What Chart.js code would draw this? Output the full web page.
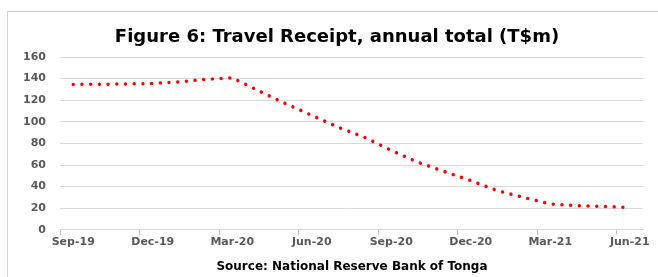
<!DOCTYPE html>
<html>
<head>
<meta charset="utf-8">
<script src="https://cdn.jsdelivr.net/npm/chart.js@4/dist/chart.umd.min.js"></script>
<style>
  html, body { margin: 0; padding: 0; background: #fff; }
  #wrap { position: relative; width: 658px; height: 277px; overflow: hidden; }
  #frame { position: absolute; left: 7px; top: 11px; width: 700px; height: 300px; border: 1px solid #d6d6d6; }
  #box { position: absolute; left: 0; top: 0; width: 658px; height: 277px; }
</style>
</head>
<body>
<div id="wrap">
  <div id="frame"></div>
  <div id="box"><canvas id="chartId"></canvas></div>
</div>
<script>
// monthly travel receipts, annual total (T$m)
var months = ["Sep-19", "Oct-19", "Nov-19", "Dec-19", "Jan-20", "Feb-20", "Mar-20",
    "Apr-20", "May-20", "Jun-20", "Jul-20", "Aug-20", "Sep-20", "Oct-20", "Nov-20",
    "Dec-20", "Jan-21", "Feb-21", "Mar-21", "Apr-21", "May-21", "Jun-21"];
var receipts = [134.6, 134.8, 135.0, 135.5, 137.0, 139.3, 140.7,
    128.7, 117.0, 106.0, 95.0, 85.6, 73.5, 62.6, 54.0,
    45.6, 36.3, 30.0, 23.9, 22.3, 21.7, 20.7];
var yTicks = [0, 20, 40, 60, 80, 100, 120, 140, 160];

var titleText = "Figure 6: Travel Receipt, annual total (T$m)";
var sourceText = "Source: National Reserve Bank of Tonga";

var font = "'DejaVu Sans', sans-serif";
var chartId;

// title and source line sit a bit right of the plot centre in the original
var captions = {
    id: 'captions',
    afterDraw: function(chart) {
        var c = chart.ctx;
        c.save();
        c.fillStyle = '#000';
        c.textAlign = 'center';
        c.textBaseline = 'alphabetic';
        c.font = "bold 18px " + font;
        c.fillText(titleText, 337, 42);
        c.font = "bold 12px " + font;
        c.fillText(sourceText, 352, 270);
        c.restore();
    }
};

var ctx = document.getElementById("chartId").getContext("2d");
chartId = new Chart(ctx, {
    type: 'line',
    data: {
        labels: months,
        datasets: [{
            data: receipts,
            borderColor: '#ff0000',
            borderWidth: 3.5,
            borderDash: [0.01, 8.7],
            borderCapStyle: 'round',
            pointRadius: 0,
            tension: 0,
            fill: false
        }]
    },
    plugins: [captions],
    options: {
        responsive: true,
        maintainAspectRatio: false,
        animation: false,
        layout: {
            padding: { left: 10, right: 15, top: 57, bottom: 27 }
        },
        plugins: {
            legend: { display: false },
            tooltip: { enabled: false },
            title: { display: false }
        },
        scales: {
            x: {
                offset: true,
                grid: {
                    offset: true,
                    drawOnChartArea: false,
                    tickLength: 5,
                    tickColor: function(c) {
                        return c.index % 3 == 0 ? '#bfbfbf' : 'rgba(0,0,0,0)';
                    }
                },
                border: { display: true, color: '#d9d9d9', width: 1 },
                ticks: {
                    autoSkip: false,
                    maxRotation: 0,
                    color: '#595959',
                    font: { family: font, size: 11, weight: 'bold' },
                    padding: 1,
                    callback: function(value, index) {
                        return index % 3 == 0 ? months[index] : '';
                    }
                }
            },
            y: {
                min: 0,
                max: 160,
                afterBuildTicks: function(axis) {
                    axis.ticks = yTicks.map(function(v) { return { value: v }; });
                },
                afterFit: function(axis) {
                    axis.width = 50;
                },
                grid: { color: '#d9d9d9', drawTicks: false },
                border: { display: false },
                ticks: {
                    color: '#595959',
                    font: { family: font, size: 11, weight: 'bold' },
                    padding: 14
                }
            }
        }
    }
});
</script>
</body>
</html>
